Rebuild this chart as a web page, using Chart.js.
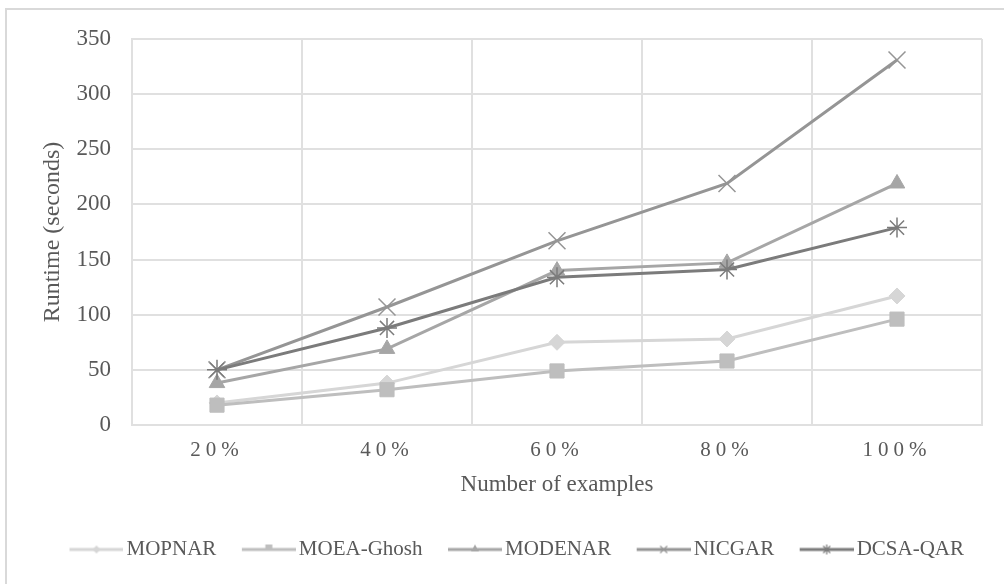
<!DOCTYPE html>
<html>
<head>
<meta charset="utf-8">
<script src="https://cdn.jsdelivr.net/npm/chart.js@4/dist/chart.umd.min.js"></script>
<style>
  html, body { margin: 0; padding: 0; background: #fff; }
  #wrap { position: relative; width: 1004px; height: 584px; }
</style>
</head>
<body>
<div id="wrap"><canvas id="canva" width="1004" height="584"></canvas></div>
<script>
// chart data
const categories = ['20%', '40%', '60%', '80%', '100%'];
const seriesNames = ['MOPNAR', 'MOEA-Ghosh', 'MODENAR', 'NICGAR', 'DCSA-QAR'];
const mopnar = [20, 38, 75, 78, 117];
const moeaGhosh = [18, 32, 49, 58, 96];
const modenar = [38, 69, 140, 147, 219];
const nicgar = [50, 107, 167, 219, 331];
const dcsaQar = [50, 88, 134, 141, 179];
const yMin = 0;
const yMax = 350;
const yStep = 50;

// look of each series
const colors = ['#d6d6d6', '#bebebe', '#a6a6a6', '#959595', '#7b7b7b'];
const markers = ['rectRot', 'rect', 'triangle', 'crossRot', 'star'];
const markerSize = [8, 10, 9, 12, 10];
const textColor = '#595959';
const gridColor = '#e0e0e0';
const serif = "'Liberation Serif', 'Times New Roman', serif";

const seriesValues = [mopnar, moeaGhosh, modenar, nicgar, dcsaQar];

// small line + marker picture for the legend
function legendImg(color, style) {
    const w = 77, h = 16, lineLen = 54;
    const c = document.createElement('canvas');
    c.width = w;
    c.height = h;
    const g = c.getContext('2d');
    const cx = w - lineLen / 2, cy = h / 2;
    g.strokeStyle = color;
    g.fillStyle = color;
    g.lineWidth = 3;
    g.beginPath();
    g.moveTo(w - lineLen, cy);
    g.lineTo(w, cy);
    g.stroke();
    g.lineWidth = 1.2;
    const r = 4;
    g.beginPath();
    if (style === 'rectRot') {
        g.moveTo(cx, cy - r); g.lineTo(cx + r, cy); g.lineTo(cx, cy + r); g.lineTo(cx - r, cy);
        g.closePath(); g.fill();
    } else if (style === 'rect') {
        g.fillRect(cx - 3.5, cy - 5, 7, 6);
    } else if (style === 'triangle') {
        g.moveTo(cx, cy - r - 1); g.lineTo(cx + r, cy + 2); g.lineTo(cx - r, cy + 2);
        g.closePath(); g.fill();
    } else if (style === 'crossRot') {
        g.moveTo(cx - 3.5, cy - 3.5); g.lineTo(cx + 3.5, cy + 3.5);
        g.moveTo(cx + 3.5, cy - 3.5); g.lineTo(cx - 3.5, cy + 3.5);
        g.stroke();
    } else {
        g.moveTo(cx - 3.5, cy - 3.5); g.lineTo(cx + 3.5, cy + 3.5);
        g.moveTo(cx + 3.5, cy - 3.5); g.lineTo(cx - 3.5, cy + 3.5);
        g.moveTo(cx, cy - 5); g.lineTo(cx, cy + 5);
        g.stroke();
    }
    return c;
}

const legendImages = colors.map((c, i) => legendImg(c, markers[i]));

const datasets = seriesNames.map((name, i) => ({
    label: name,
    data: seriesValues[i],
    borderColor: colors[i],
    backgroundColor: colors[i],
    borderWidth: 3,
    pointStyle: markers[i],
    pointRadius: markerSize[i],
    pointHoverRadius: markerSize[i],
    pointBackgroundColor: colors[i],
    pointBorderColor: colors[i],
    pointBorderWidth: (markers[i] === 'crossRot' || markers[i] === 'star') ? 1.5 : 1,
    tension: 0,
    order: seriesNames.length - i
}));

// outer frame of the chart area (top and left edges are visible)
const framePlugin = {
    id: 'frame',
    beforeDraw(chart) {
        const ctx = chart.ctx;
        ctx.save();
        ctx.strokeStyle = '#d9d9d9';
        ctx.lineWidth = 2;
        ctx.beginPath();
        ctx.moveTo(6, 584);
        ctx.lineTo(6, 9);
        ctx.lineTo(1004, 9);
        ctx.stroke();
        ctx.restore();
    }
};

// spaced-out category labels
const spacedTicks = {
    id: 'spacedTicks',
    beforeDraw(chart) {
        const sc = chart.scales.x;
        if (sc._spaced) return;
        const orig = sc.drawLabels.bind(sc);
        sc.drawLabels = function (area) {
            const ctx = this.ctx;
            ctx.save();
            ctx.letterSpacing = '5px';
            orig(area);
            ctx.restore();
        };
        sc._spaced = true;
    }
};

const ctx = document.getElementById('canva').getContext('2d');
new Chart(ctx, {
    type: 'line',
    data: { labels: categories, datasets: datasets },
    plugins: [framePlugin, spacedTicks],
    options: {
        responsive: false,
        animation: false,
        devicePixelRatio: 1,
        layout: { padding: { top: 39, right: 22, bottom: 14, left: 36 } },
        plugins: {
            tooltip: { enabled: false },
            legend: {
                position: 'bottom',
                labels: {
                    usePointStyle: true,
                    pointStyleWidth: 62,
                    padding: 10,
                    color: textColor,
                    font: { family: serif, size: 21 },
                    generateLabels: (chart) => seriesNames.map((name, i) => ({
                        text: name,
                        pointStyle: legendImages[i],
                        fillStyle: colors[i],
                        strokeStyle: colors[i],
                        lineWidth: 0,
                        fontColor: textColor,
                        datasetIndex: i,
                        hidden: false
                    }))
                }
            }
        },
        scales: {
            x: {
                offset: true,
                grid: { offset: true, color: gridColor, lineWidth: 2, drawTicks: false },
                border: { color: gridColor, width: 2 },
                ticks: { color: textColor, padding: 13, font: { family: serif, size: 21 } },
                title: {
                    display: true,
                    text: 'Number of examples',
                    color: textColor,
                    font: { family: serif, size: 23 },
                    padding: { top: 0, bottom: 30 }
                },
                afterFit: (s) => { s.height = 104; }
            },
            y: {
                min: yMin,
                max: yMax,
                grid: { color: gridColor, lineWidth: 2, drawTicks: false },
                border: { color: gridColor, width: 2 },
                ticks: { stepSize: yStep, color: textColor, padding: 21, font: { family: serif, size: 23 } },
                title: {
                    display: true,
                    text: 'Runtime (seconds)',
                    color: textColor,
                    font: { family: serif, size: 24 },
                    padding: { top: 2, bottom: 0 }
                },
                afterFit: (s) => { s.width = 96; }
            }
        }
    }
});
</script>
</body>
</html>
